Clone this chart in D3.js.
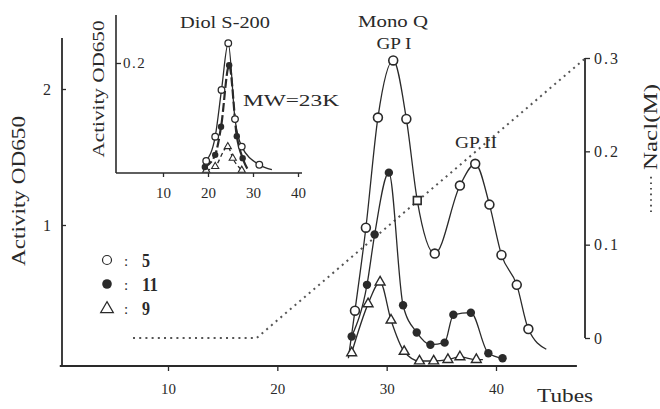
<!DOCTYPE html>
<html><head><meta charset="utf-8">
<script src="https://cdn.jsdelivr.net/npm/d3@7"></script>
<style>
body{margin:0;background:#fff;}
svg text{font-family:"Liberation Serif","DejaVu Serif",serif;fill:#2a2a2a;}
</style></head>
<body><svg id="c" width="660" height="409"></svg>
<script>
// ---- main chart data (tube, OD650) ----
const openCircle = [[27.1,0.37],[28.1,0.98],[29.2,1.79],[30.6,2.21],[31.8,1.78],[32.8,1.18],[34.4,0.79],[36.7,1.29],[38.1,1.45],[39.4,1.15],[40.5,0.78],[41.9,0.56],[42.96,0.235]];
const openSquareIdx = [5];
const openTails = [[26.5,0.02],[44.6,0.086]];
const filledCircle = [[26.8,0.18],[28.2,0.56],[28.9,0.93],[30.2,1.385],[31.5,0.41],[32.75,0.21],[34.0,0.12],[35.3,0.135],[36.1,0.34],[37.7,0.355],[39.3,0.057],[40.6,0.02]];
const triangle = [[26.8,0.06],[28.3,0.42],[29.4,0.58],[30.4,0.30],[31.6,0.07],[33.0,0.0],[34.3,0.0],[35.6,0.01],[36.7,0.03],[38.2,0.01]];
const naclGradient = [[6.8,0],[18.1,0],[48.2,0.3]];
const xTicks = [10,20,30,40];
const yTicks = [1,2];
const naclTicks = [0,0.1,0.2,0.3];
const legendLabels = ["5","11","9"];
// ---- inset data (Diol S-200) ----
const insetOpen = [[19.6,0.022],[21.6,0.066],[23.0,0.151],[24.5,0.236],[26.0,0.098],[27.5,0.048],[31.4,0.015]];
const insetOpenTail = [[34.2,0.006]];
const insetFilled = [[19.3,0.011],[21.6,0.033],[22.9,0.084],[24.7,0.196],[26.4,0.067],[27.7,0.027]];
const insetFilledTail = [[29.0,0.004]];
const insetTriangle = [[19.6,0.005],[21.6,0.012],[24.4,0.048],[25.5,0.027],[27.5,0.005]];
const insetXTicks = [10,20,30,40];
const insetYTicks = [0.2];

const ink = "#2a2a2a";
const svg = d3.select("#c");

// scales
const x = d3.scaleLinear().domain([10,40]).range([168,496]);
const y = d3.scaleLinear().domain([1,2]).range([225,89]);
const yN = d3.scaleLinear().domain([0,0.3]).range([338,58]);
const xi = d3.scaleLinear().domain([10,40]).range([163,298]);
const yi = d3.scaleLinear().domain([0,0.2]).range([173,63]);

function styleAxis(g, fs){
  g.select(".domain").remove();
  g.selectAll("line").attr("stroke",ink).attr("stroke-width",1.3);
  g.selectAll("text").attr("font-size",fs).attr("font-family","Liberation Serif, serif").attr("fill",ink);
}

// main axes lines
svg.append("line").attr("x1",x(0.1)).attr("x2",x(47.4)).attr("y1",366).attr("y2",366).attr("stroke",ink).attr("stroke-width",1.8);
svg.append("line").attr("x1",62).attr("x2",62).attr("y1",y(2.375)).attr("y2",366).attr("stroke",ink).attr("stroke-width",1.8);
svg.append("g").attr("transform","translate(0,366)")
  .call(d3.axisBottom(x).tickValues(xTicks).tickSize(5).tickPadding(12).tickSizeOuter(0))
  .call(g=>styleAxis(g,15));
svg.append("g").attr("transform","translate(62,0)")
  .call(d3.axisLeft(y).tickValues(yTicks).tickSize(-4).tickPadding(11).tickSizeOuter(0).tickFormat(d3.format("d")))
  .call(g=>styleAxis(g,16));
// right axis
svg.append("line").attr("x1",585).attr("x2",585).attr("y1",yN(0.3)).attr("y2",yN(0)).attr("stroke",ink).attr("stroke-width",1.8);
svg.append("g").attr("transform","translate(585,0)")
  .call(d3.axisRight(yN).tickValues(naclTicks).tickSize(5).tickPadding(4).tickSizeOuter(0).tickFormat(d=>d===0?"0":d3.format(".1f")(d)))
  .call(g=>styleAxis(g,16))
  .call(g=>g.selectAll("text").attr("letter-spacing",2));

// axis titles
svg.append("text").attr("transform","translate(25,191) rotate(-90)").attr("text-anchor","middle")
  .attr("font-size",19).attr("textLength",150).attr("lengthAdjust","spacingAndGlyphs").text("Activity OD650");
svg.append("text").attr("x",537).attr("y",402).attr("font-size",19).attr("textLength",56).attr("lengthAdjust","spacingAndGlyphs").text("Tubes");
svg.append("text").attr("transform","translate(657,127) rotate(-90)").attr("text-anchor","middle")
  .attr("font-size",18).attr("textLength",86).attr("lengthAdjust","spacingAndGlyphs").text("Nacl(M)");
svg.append("line").attr("x1",651).attr("x2",651).attr("y1",212).attr("y2",176).attr("stroke",ink).attr("stroke-width",1.6).attr("stroke-dasharray","1.6,4");

// NaCl gradient
svg.append("path").datum(naclGradient)
  .attr("d",d3.line().x(d=>x(d[0])).y(d=>yN(d[1])))
  .attr("fill","none").attr("stroke","#555").attr("stroke-width",2).attr("stroke-dasharray","2,4.2");

// curves
const lineMain = d3.line().x(d=>x(d[0])).y(d=>y(d[1])).curve(d3.curveMonotoneX);
const openLine = [openTails[0], ...openCircle, openTails[1]];
[openLine, filledCircle, [...triangle,[38.8,0.01]]].forEach(arr=>{
  svg.append("path").datum(arr).attr("d",lineMain).attr("fill","none").attr("stroke",ink).attr("stroke-width",1.3);
});

// markers
const tri = d3.symbol().type(d3.symbolTriangle).size(42);
svg.append("g").selectAll("path").data(triangle).join("path")
  .attr("transform",d=>`translate(${x(d[0])},${y(d[1])})`).attr("d",tri)
  .attr("fill","#fff").attr("stroke",ink).attr("stroke-width",1.4);
svg.append("g").selectAll("circle").data(filledCircle).join("circle")
  .attr("cx",d=>x(d[0])).attr("cy",d=>y(d[1])).attr("r",4.2).attr("fill",ink);
svg.append("g").selectAll("path").data(openCircle).join("path")
  .attr("transform",d=>`translate(${x(d[0])},${y(d[1])})`)
  .attr("d",(d,i)=>openSquareIdx.includes(i)?d3.symbol().type(d3.symbolSquare).size(60)():d3.symbol().type(d3.symbolCircle).size(62)())
  .attr("fill","#fff").attr("stroke",ink).attr("stroke-width",1.6);

// annotations
svg.append("text").attr("x",393).attr("y",27).attr("text-anchor","middle").attr("font-size",17).attr("textLength",70).attr("lengthAdjust","spacingAndGlyphs").text("Mono Q");
svg.append("text").attr("x",394).attr("y",49).attr("text-anchor","middle").attr("font-size",17).attr("textLength",35).attr("lengthAdjust","spacingAndGlyphs").text("GP I");
svg.append("text").attr("x",476).attr("y",148).attr("text-anchor","middle").attr("font-size",17).attr("textLength",42).attr("lengthAdjust","spacingAndGlyphs").text("GP II");

// legend
const legY = [260,284,308];
const lg = svg.append("g");
lg.append("circle").attr("cx",107).attr("cy",legY[0]).attr("r",4.5).attr("fill","#fff").attr("stroke",ink).attr("stroke-width",1.2);
lg.append("circle").attr("cx",107).attr("cy",legY[1]).attr("r",4.8).attr("fill",ink);
lg.append("path").attr("transform",`translate(107,${legY[2]+1})`).attr("d",d3.symbol().type(d3.symbolTriangle).size(70)).attr("fill","#fff").attr("stroke",ink).attr("stroke-width",1.2);
legendLabels.forEach((t,i)=>{
  lg.append("text").attr("x",124).attr("y",legY[i]+6).attr("font-size",15).attr("fill","#777").text(":");
  lg.append("text").attr("x",142).attr("y",legY[i]+7).attr("font-size",18).attr("font-weight","bold").attr("textLength",t.length*8).attr("lengthAdjust","spacingAndGlyphs").text(t);
});

// ---- inset ----
svg.append("line").attr("x1",116).attr("x2",116).attr("y1",15).attr("y2",173).attr("stroke",ink).attr("stroke-width",1.6);
svg.append("line").attr("x1",116).attr("x2",302).attr("y1",173).attr("y2",173).attr("stroke",ink).attr("stroke-width",1.6);
svg.append("g").attr("transform","translate(0,173)")
  .call(d3.axisBottom(xi).tickValues(insetXTicks).tickSize(4).tickPadding(10).tickSizeOuter(0))
  .call(g=>styleAxis(g,15));
svg.append("g").attr("transform","translate(116,0)")
  .call(d3.axisLeft(yi).tickValues(insetYTicks).tickSize(-5).tickPadding(-7).tickSizeOuter(0).tickFormat(d3.format(".1f")))
  .call(g=>styleAxis(g,15))
  .call(g=>g.selectAll("text").attr("text-anchor","start").attr("letter-spacing",1.5));
svg.append("text").attr("transform","translate(104,89) rotate(-90)").attr("text-anchor","middle")
  .attr("font-size",17).attr("textLength",137).attr("lengthAdjust","spacingAndGlyphs").text("Activity OD650");
svg.append("text").attr("x",225).attr("y",28).attr("text-anchor","middle").attr("font-size",16).attr("textLength",90).attr("lengthAdjust","spacingAndGlyphs").text("Diol S-200");
svg.append("text").attr("x",243).attr("y",106).attr("font-size",16).attr("textLength",96).attr("lengthAdjust","spacingAndGlyphs").text("MW=23K");

const lineIn = d3.line().x(d=>xi(d[0])).y(d=>yi(d[1])).curve(d3.curveMonotoneX);
svg.append("path").datum([...insetOpen,...insetOpenTail]).attr("d",lineIn).attr("fill","none").attr("stroke",ink).attr("stroke-width",1.3);
svg.append("path").datum([...insetFilled,...insetFilledTail]).attr("d",lineIn).attr("fill","none").attr("stroke",ink).attr("stroke-width",2.2).attr("stroke-dasharray","9,3");
svg.append("path").datum(insetTriangle).attr("d",lineIn).attr("fill","none").attr("stroke",ink).attr("stroke-width",1.3).attr("stroke-dasharray","4,3");
svg.append("g").selectAll("path").data(insetTriangle).join("path")
  .attr("transform",d=>`translate(${xi(d[0])},${yi(d[1])})`).attr("d",d3.symbol().type(d3.symbolTriangle).size(22))
  .attr("fill","#fff").attr("stroke",ink).attr("stroke-width",1.1);
svg.append("g").selectAll("circle").data(insetFilled).join("circle")
  .attr("cx",d=>xi(d[0])).attr("cy",d=>yi(d[1])).attr("r",3.2).attr("fill",ink);
svg.append("g").selectAll("circle").data(insetOpen).join("circle")
  .attr("cx",d=>xi(d[0])).attr("cy",d=>yi(d[1])).attr("r",3.3).attr("fill","#fff").attr("stroke",ink).attr("stroke-width",1.3);
</script></body></html>
